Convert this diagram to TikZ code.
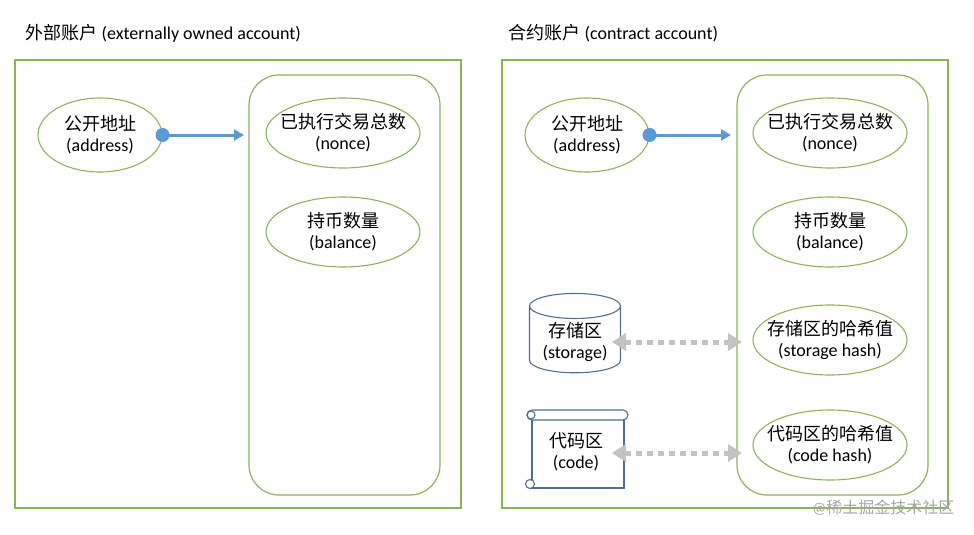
\documentclass[tikz,border=0pt]{standalone}
\usepackage{fontspec}
\setmainfont{Carlito}
\newfontfamily\cjk{Noto Sans CJK SC}
\usetikzlibrary{shapes.geometric,arrows.meta}
\definecolor{gr}{RGB}{140,180,90}
\definecolor{bl}{RGB}{91,155,213}
\definecolor{sb}{RGB}{80,110,150}
\definecolor{dg}{RGB}{195,195,195}
\begin{document}
\begin{tikzpicture}[x=1pt,y=-1pt,
  ell/.style={ellipse,draw=gr,line width=1.1pt,minimum width=154pt,minimum height=70pt,align=center,font=\fontsize{18}{21}\selectfont,inner xsep=-16pt,inner ysep=-6pt},
  box/.style={draw=gr,line width=1.2pt},
  lbl/.style={font=\fontsize{18}{21}\selectfont,align=center},
  blu/.style={bl,line width=3pt,-{Triangle[length=10pt,width=11pt]}},
  dsh/.style={dg,line width=5pt,dash pattern=on 6pt off 5pt,{Triangle[length=14pt,width=17pt]}-{Triangle[length=14pt,width=17pt]}}]
\useasboundingbox (0,0) rectangle (974,535);
\node[anchor=west,font=\fontsize{18}{21}\selectfont] (t1) at (22,33) {{\cjk 外部账户} (externally owned account)};
\node[anchor=west,font=\fontsize{18}{21}\selectfont] (t2) at (505,33) {{\cjk 合约账户} (contract account)};
\draw[box] (15,60) rectangle (461,508);
\draw[box] (502,60) rectangle (948,508);
\draw[box,rounded corners=30pt] (249,75) rectangle (440,495);
\draw[box,rounded corners=30pt] (737,75) rectangle (928,495);
% left
\node[ell,minimum width=124pt,minimum height=74pt] (a1) at (100,135) {{\cjk 公开地址}\\(address)};
\node[ell] (n1) at (343,133) {{\cjk 已执行交易总数}\\(nonce)};
\node[ell] (b1) at (343,232) {{\cjk 持币数量}\\(balance)};
% right
\node[ell,minimum width=124pt,minimum height=74pt] (a2) at (587,135) {{\cjk 公开地址}\\(address)};
\node[ell] (n2) at (830,133) {{\cjk 已执行交易总数}\\(nonce)};
\node[ell] (b2) at (830,232) {{\cjk 持币数量}\\(balance)};
\node[ell] (s2) at (830,340) {{\cjk 存储区的哈希值}\\(storage hash)};
\node[ell] (c2) at (830,445) {{\cjk 代码区的哈希值}\\(code hash)};
\coordinate (e1) at (244,135);
\coordinate (e2) at (731,135);
\fill[bl] (a1.east) circle (7pt);
\draw[blu] (a1.east) -- (e1);
\fill[bl] (a2.east) circle (7pt);
\draw[blu] (a2.east) -- (e2);
% cylinder
\node[cylinder,shape border rotate=90,draw=sb,line width=1.1pt,minimum width=91pt,minimum height=78pt,aspect=0.35,lbl] (st) at (575,342) {{\cjk 存储区}\\(storage)};
\coordinate (sl) at (612,342);
\coordinate (sa) at (742,342);
\draw[dsh] (sl) -- (sa);
% scroll
\draw[sb,line width=1.1pt,fill=white] (532,414) rectangle (624,488);
\draw[sb,line width=1.1pt,fill=white,rounded corners=5pt] (527,410) rectangle (628,420);
\draw[sb,line width=1.1pt] (531,415) circle (4pt);
\draw[sb,line width=1.1pt,fill=white] (530,484) circle (4.5pt);
\node[lbl] (cd) at (576,452) {{\cjk 代码区}\\(code)};
\coordinate (cl) at (612,453);
\coordinate (ca) at (742,453);
\draw[dsh] (cl) -- (ca);
\node[anchor=east,text=gray!70,font=\fontsize{16}{19}\selectfont] (wm) at (958,508) {@{\cjk 稀土掘金技术社区}};
\end{tikzpicture}
\end{document}
